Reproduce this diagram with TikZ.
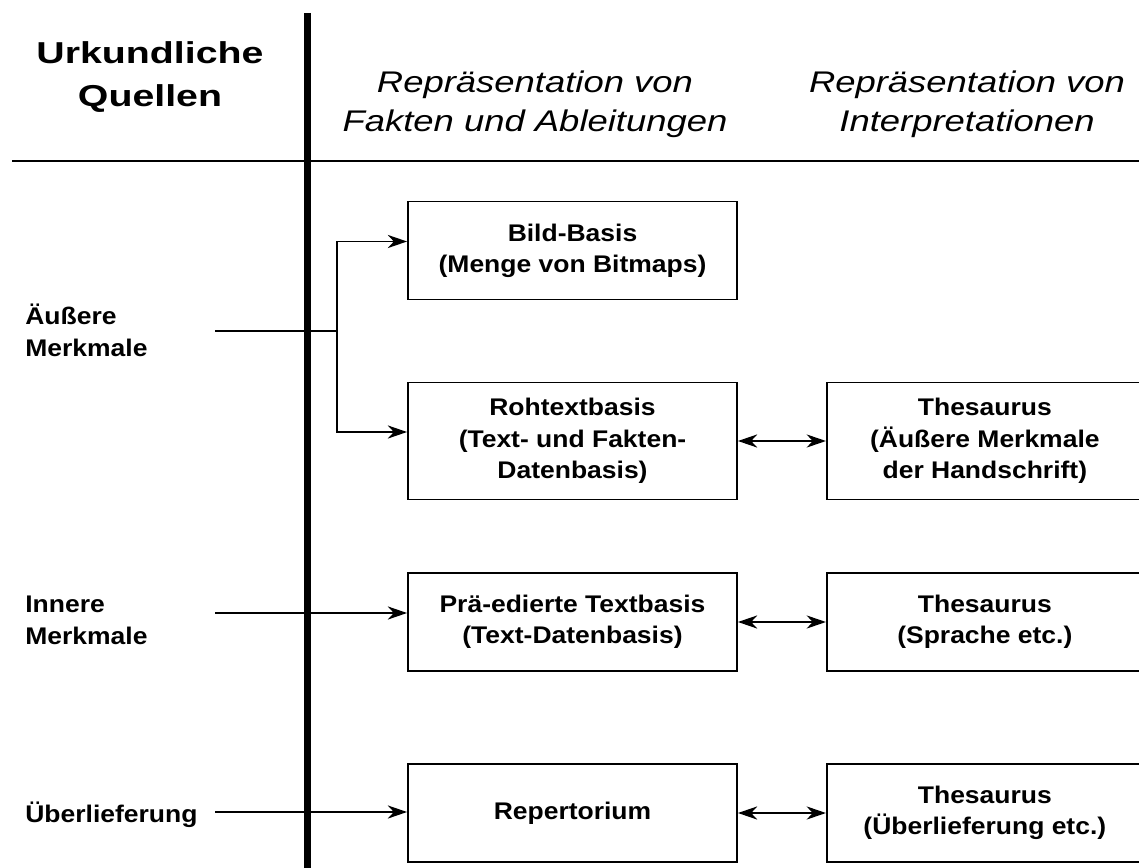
\documentclass[tikz,border=0pt]{standalone}
\usepackage{fontspec}
\setmainfont{Liberation Sans}[FakeStretch=1.1]
\newfontfamily\titlefont{Liberation Sans}[FakeStretch=1.3]
\newfontfamily\headfont{Liberation Sans}[FakeStretch=1.22]
\usepackage{tikz}
\usetikzlibrary{positioning, arrows.meta}
\tikzset{
>={Stealth[length=11pt, width=7.5pt, inset=3.5pt]}, % long barbed arrow heads
x=0.02cm, y=-0.02cm, % one unit is one pixel of the drawing
box/.style={draw, line width=1.1pt, align=center, inner sep=0pt, font=\bfseries\fontsize{13.7}{17.8}\selectfont}, % the data bases
sidetext/.style={anchor=west, align=left, inner sep=0pt, font=\bfseries\fontsize{13.7}{18.2}\selectfont}, % the sources on the left
head/.style={align=center, inner sep=0pt, font=\headfont\itshape\fontsize{17}{22}\selectfont}, % column titles
link/.style={line width=0.8pt}, % connectors
}
\begin{document}
\begin{tikzpicture}
                \useasboundingbox (0,0) rectangle (1139,868);
                % column titles
                \node[align=center, inner sep=0pt, font=\titlefont\bfseries\fontsize{17.2}{24.5}\selectfont] (title) at (150,77) {Urkundliche\\Quellen};
                \node[head] (headA) at (535,104) {Repräsentation von\\Fakten und Ableitungen};
                \node[head] (headB) at (967,104) {Repräsentation von\\Interpretationen};
                \draw[line width=1.1pt] (12,161) -- (1139,161);
                \draw[line width=4pt] (307.5,13) -- (307.5,868);

                % sources
                \node[sidetext] (aeussere) at (25,330) {Äußere\\Merkmale};
                \node[sidetext] (innere) at (25,620) {Innere\\Merkmale};
                \node[sidetext] (ueberl) at (25,815) {Überlieferung};

                % data bases
                \node[box, minimum width=6.58cm, minimum height=1.96cm] (bild) at (572.5,250.5) {Bild-Basis\\(Menge von Bitmaps)};
                \node[box, minimum width=6.58cm, minimum height=2.34cm] (roh) at (572.5,441) {Rohtextbasis\\(Text- und Fakten-\\Datenbasis)};
                \node[box, minimum width=6.58cm, minimum height=1.96cm] (prae) at (572.5,622) {Prä-edierte Textbasis\\(Text-Datenbasis)};
                \node[box, minimum width=6.58cm, minimum height=1.96cm] (rep) at (572.5,813) {Repertorium};
                \node[box, minimum width=6.32cm, minimum height=2.34cm, right=1.76cm of roh] (thesA) {Thesaurus\\(Äußere Merkmale\\der Handschrift)};
                \node[box, minimum width=6.32cm, minimum height=1.96cm, right=1.76cm of prae] (thesB) {Thesaurus\\(Sprache etc.)};
                \node[box, minimum width=6.32cm, minimum height=1.96cm, right=1.76cm of rep] (thesC) {Thesaurus\\(Überlieferung etc.)};

                \coordinate (aeussereIn) at (215,331);
                \coordinate (fork) at (337,331);
                \coordinate (innereIn) at (215,613);
                \coordinate (ueberlIn) at (215,812);
                \draw[link]
                    (aeussereIn) -- (fork)
                    ;
                \draw[link, ->] (fork) |- ([yshift=0.18cm]bild.west);
                \draw[link, ->] (fork) |- ([yshift=0.18cm]roh.west);
                \draw[link, ->] (innereIn) -- (innereIn -| prae.west);
                \draw[link, ->] (ueberlIn) -- (ueberlIn -| rep.west);
                \draw[link, <->] (roh) -- (thesA);
                \draw[link, <->] (prae) -- (thesB);
                \draw[link, <->] (rep) -- (thesC);
\end{tikzpicture}
\end{document}
